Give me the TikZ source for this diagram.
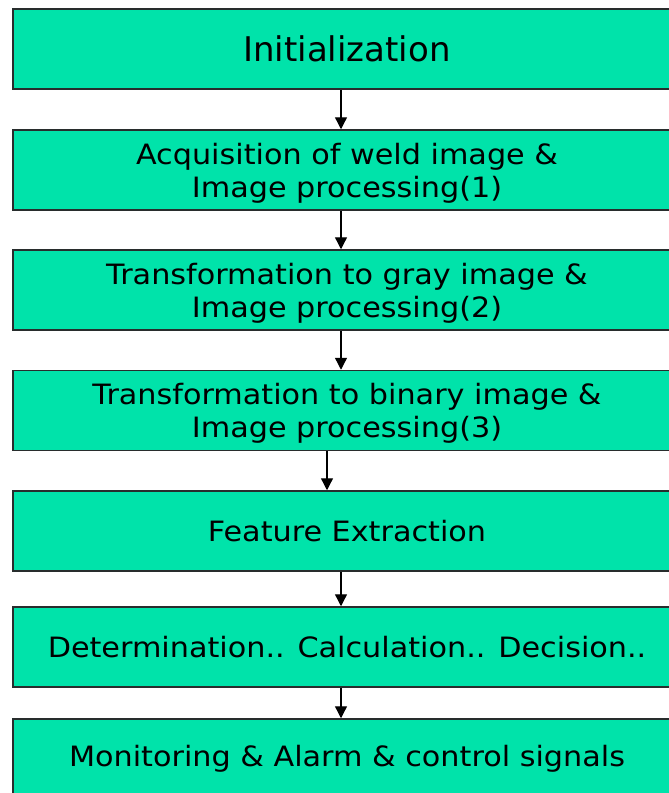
\documentclass[tikz,border=0pt]{standalone}
\usepackage{fontspec}
\setmainfont{DejaVu Sans}
\newfontfamily\widefont[FakeStretch=1.08]{DejaVu Sans}
\usetikzlibrary{arrows.meta}
\definecolor{boxfill}{RGB}{0,227,170}
\definecolor{boxline}{RGB}{40,45,45}
\tikzset{
  stepbox/.style={draw=boxline, line width=1.5pt, fill=boxfill, minimum width=668pt, minimum height=80pt, inner sep=0pt, align=center, font=\widefont\fontsize{28}{33}\selectfont},
  twoline/.style={text depth=0pt},
  flowarrow/.style={draw=black, line width=1.3pt, -{Triangle[width=12pt,length=12pt]}}
}
\begin{document}
\begin{tikzpicture}[x=1pt,y=-1pt]
\useasboundingbox (0,0) rectangle (669,793);
\clip (0,0) rectangle (669,793);
\node[stepbox, font=\fontsize{34}{38}\selectfont] (b1) at (347,49) {Initialization};
\node[stepbox, twoline] (b2) at (347,170) {Acquisition of weld image \&\\Image processing(1)};
\node[stepbox, twoline] (b3) at (347,290) {Transformation to gray image \&\\Image processing(2)};
\node[stepbox, twoline] (b4) at (347,410.5) {Transformation to binary image \&\\Image processing(3)};
\node[stepbox] (b5) at (347,531) {Feature Extraction};
\node[stepbox] (b6) at (347,647) {Determination.. Calculation.. Decision..};
\node[stepbox] (b7) at (347,759) {Monitoring \& Alarm \& control signals};
\coordinate (ax) at (341,0);
\coordinate (ay) at (327,0);
\draw[flowarrow] (b1.south -| ax) -- (b2.north -| ax);
\draw[flowarrow] (b2.south -| ax) -- (b3.north -| ax);
\draw[flowarrow] (b3.south -| ax) -- (b4.north -| ax);
\draw[flowarrow] (b4.south -| ay) -- (b5.north -| ay);
\draw[flowarrow] (b5.south -| ax) -- (b6.north -| ax);
\draw[flowarrow] (b6.south -| ax) -- (b7.north -| ax);
\end{tikzpicture}
\end{document}
